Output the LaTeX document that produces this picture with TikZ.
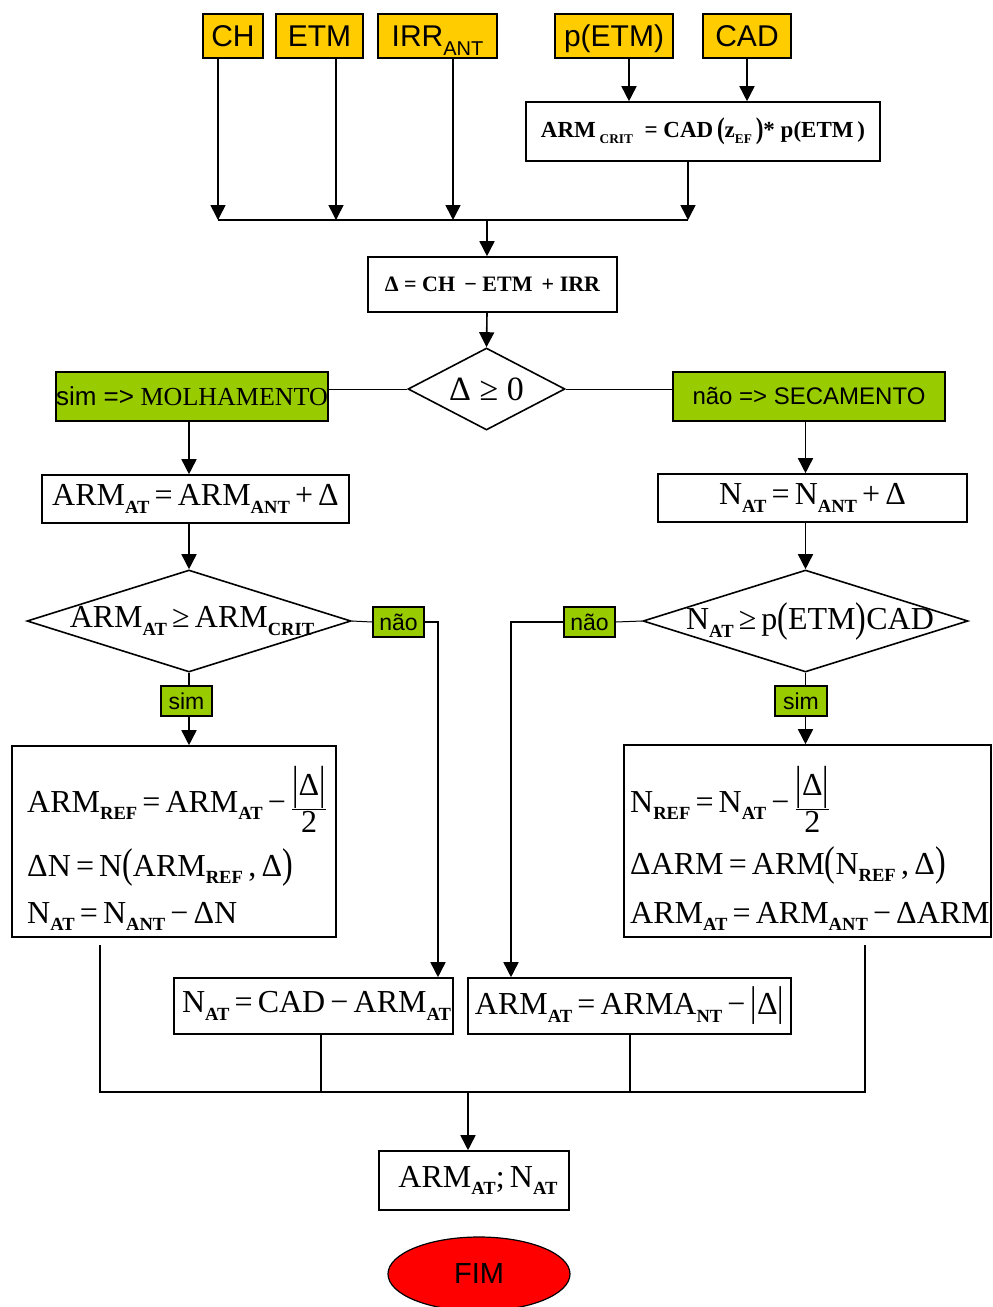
\documentclass[tikz,border=0pt]{standalone}
\usepackage{fontspec}
\setmainfont{Liberation Serif}
\setsansfont{Liberation Sans}
\usepackage{graphicx}
\usetikzlibrary{shapes.geometric,arrows.meta,calc}
\definecolor{yel}{HTML}{FFCC00}
\definecolor{grn}{HTML}{99CC00}
\definecolor{redf}{HTML}{FF0000}
\newcommand\lo[1]{\raisebox{-0.24em}{\scalebox{0.58}{\bfseries #1}}}
\newcommand\bigp[1]{\raisebox{-0.04em}{\scalebox{1}[1.3]{#1}}}
\newcommand\tallbar{\raisebox{-0.08em}{\scalebox{1}[1.45]{|}}}
\newcommand\fs[1]{\fontsize{#1}{#1}\selectfont}
\newcommand\op[1]{\hspace{0.16em}#1\hspace{0.16em}}
\newcommand\halfd{\raisebox{-0.12em}{$\displaystyle\frac{\mbox{\tallbar Δ\tallbar}}{\mbox{2}}$}}
\begin{document}
\begin{tikzpicture}[x=1pt,y=-1pt,
  box/.style={draw,line width=1.6pt,inner sep=0pt,fill=white},
  inbox/.style={box,fill=yel,font=\sffamily\fs{30},text height=21.5pt,text depth=0pt},
  gbox/.style={box,fill=grn},
  ln/.style={line width=1.6pt},
  thinln/.style={line width=1pt},
  arr/.style={ln,-{Triangle[length=15pt,width=15pt]}},
  frm/.style={font=\fs{32},inner sep=0pt}]
\useasboundingbox (0,0) rectangle (993,1307);

% inputs
\node[inbox,minimum width=60,minimum height=44] (ch) at (233,36) {CH};
\node[inbox,minimum width=87,minimum height=44] (etm) at (319.5,36) {ETM};
\node[inbox,minimum width=119,minimum height=44] (irr) at (437.5,36) {IRR\raisebox{-0.3em}{\fs{20}ANT}};
\node[inbox,minimum width=118,minimum height=44] (petm) at (614,36) {p(ETM)};
\node[inbox,minimum width=88,minimum height=44] (cad) at (747,36) {CAD};

\node[box,minimum width=354,minimum height=59,font=\fs{23}\bfseries] (crit) at (703,131.5)
  {ARM\,\lo{CRIT}\ \ = CAD\,\bigp{(}z\lo{EF}\,\bigp{)}* p(ETM\,)};
\node[box,minimum width=249,minimum height=55,font=\fs{22}\bfseries] (delta) at (492.5,284.5)
  {Δ = CH \,− ETM \,+ IRR};

\node[box,diamond,minimum width=157,minimum height=82] (d0) at (486.5,389) {};
\node[font=\fs{34},inner sep=0pt] (d0t) at (d0.center) {Δ ≥ 0};

\node[gbox,minimum width=272,minimum height=49,font=\fs{26}] (molh) at (192,396.5)
  {{\sffamily sim =>} MOLHAMENTO};
\node[gbox,minimum width=272,minimum height=49,font=\sffamily\fs{24}] (sec) at (809,396.5)
  {não => SECAMENTO};

\node[box,minimum width=307,minimum height=48,frm] (armat) at (195.5,499)
  {ARM\lo{AT}\op{=}ARM\lo{ANT}\op{+}Δ};
\node[box,minimum width=309,minimum height=48,frm] (nat) at (812.5,498)
  {N\lo{AT}\op{=}N\lo{ANT}\op{+}Δ};

\node[box,diamond,minimum width=324,minimum height=102] (dL) at (189,621) {};
\node[frm] (dLt) at (192,621) {ARM\lo{AT}\op{≥}ARM\lo{CRIT}};
\node[box,diamond,minimum width=325,minimum height=102] (dR) at (805.5,621) {};
\node[frm] (dRt) at (810,621) {N\lo{AT}\op{≥}p\bigp{(}ETM\bigp{)}CAD};

\node[gbox,minimum width=51,minimum height=30,font=\sffamily\fs{23}] (naoL) at (398.5,622) {não};
\node[gbox,minimum width=51,minimum height=30,font=\sffamily\fs{23}] (naoR) at (589.5,622) {não};
\node[gbox,minimum width=51,minimum height=30,font=\sffamily\fs{23}] (simL) at (186.5,701) {sim};
\node[gbox,minimum width=52,minimum height=30,font=\sffamily\fs{23}] (simR) at (801,701) {sim};

\node[box,minimum width=324,minimum height=191] (boxL) at (174,841.5) {};
\node[frm,anchor=base west] (L1) at (27,812) {ARM\lo{REF}\op{=}ARM\lo{AT}\op{−}\halfd};
\node[frm,anchor=base west] (L2) at (27,876) {ΔN\op{=}N\bigp{(}ARM\lo{REF}\,,\,Δ\bigp{)}};
\node[frm,anchor=base west] (L3) at (27,923) {N\lo{AT}\op{=}N\lo{ANT}\op{−}ΔN};

\node[box,minimum width=367,minimum height=192] (boxR) at (807.5,841) {};
\node[frm,anchor=base west] (R1) at (630,812) {N\lo{REF}\op{=}N\lo{AT}\op{−}\halfd};
\node[frm,anchor=base west] (R2) at (630,874) {ΔARM\op{=}ARM\bigp{(}N\lo{REF}\,,\,Δ\bigp{)}};
\node[frm,anchor=base west] (R3) at (630,923) {ARM\lo{AT}\op{=}ARM\lo{ANT}\op{−}ΔARM};

\node[box,minimum width=279,minimum height=56,frm] (bot1) at (313.5,1006)
  {\hspace{6pt}N\lo{AT}\op{=}CAD\op{−}ARM\lo{AT}};
\node[box,minimum width=323,minimum height=56,frm] (bot2) at (629.5,1006)
  {ARM\lo{AT}\op{=}ARMA\lo{NT}\op{−}\bigp{|}Δ\bigp{|}};

\node[box,minimum width=190,minimum height=59,font=\fs{32}] (res) at (474,1180.5)
  {\hspace{8pt}ARM\lo{AT};\,N\lo{AT}};
\node[draw,ellipse,fill=redf,line width=1.2pt,minimum width=182,minimum height=74,
  inner sep=0pt,font=\sffamily\fs{29}] (fim) at (479,1274) {FIM};

% coordinates
\coordinate (j1) at (218,220);
\coordinate (j2) at (336,220);
\coordinate (j3) at (453,220);
\coordinate (j4) at (688,220);
\coordinate (jc) at (487,220);
\coordinate (xp) at (629,0);
\coordinate (cL) at (438,621);
\coordinate (cR) at (511,621);
\coordinate (m1t) at (100,945);
\coordinate (m4t) at (865,945);
\coordinate (m1) at (100,1092);
\coordinate (m2) at (321,1092);
\coordinate (m3) at (630,1092);
\coordinate (m4) at (865,1092);
\coordinate (mc) at (468,1092);

% connectors top
\draw[arr] (ch.south -| j1) -- (j1);
\draw[arr] (etm.south -| j2) -- (j2);
\draw[arr] (irr.south -| j3) -- (j3);
\draw[arr] (crit.south -| j4) -- (j4);
\draw[ln] (j1) -- (j4);
\draw[arr] (petm.south -| xp) -- (crit.north -| xp);
\draw[arr] (cad.south) -- (crit.north -| cad.south);
\draw[arr] (jc) -- (delta.north -| jc);
\draw[arr] (delta.south -| jc) -- (d0.north);
\draw[thinln] (d0.west) -- (d0.west -| molh.east);
\draw[thinln] (d0.east) -- (d0.east -| sec.west);

% left branch
\draw[arr] (molh.south -| dL.north) -- (armat.north -| dL.north);
\draw[arr] (armat.south -| dL.north) -- (dL.north);
\draw[ln] (dL.south) -- (simL.north -| dL.south);
\draw[arr] (simL.south -| dL.south) -- (boxL.north -| dL.south);
\draw[thinln] (dL.east) -- (naoL.west);
\draw[arr] (naoL.east) -| (bot1.north -| cL);

% right branch
\draw[arr] (sec.south -| dR.north) -- (nat.north -| dR.north);
\draw[arr] (nat.south -| dR.north) -- (dR.north);
\draw[ln] (dR.south) -- (simR.north -| dR.south);
\draw[arr] (simR.south -| dR.south) -- (boxR.north -| dR.south);
\draw[thinln] (dR.west) -- (naoR.east);
\draw[arr] (naoR.west) -| (bot2.north -| cR);

% merge
\draw[ln] (m1t) -- (m1) -- (m4) -- (m4t);
\draw[ln] (bot1.south -| m2) -- (m2);
\draw[ln] (bot2.south -| m3) -- (m3);
\draw[arr] (mc) -- (res.north -| mc);
\end{tikzpicture}
\end{document}
